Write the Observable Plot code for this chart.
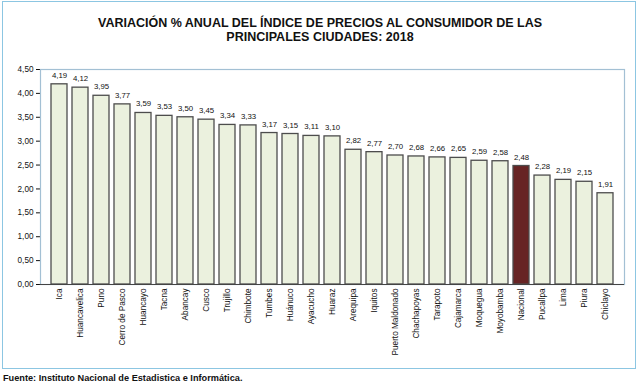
<!DOCTYPE html>
<html>
<head>
<meta charset="utf-8">
<script src="https://cdn.jsdelivr.net/npm/d3@7"></script>
<script src="https://cdn.jsdelivr.net/npm/@observablehq/plot@0.6"></script>
<style>
  html, body { margin: 0; padding: 0; background: #fff; }
  #wrap { position: relative; width: 640px; height: 384px; overflow: hidden; font-family: "Liberation Sans", Arial, sans-serif; }
  #frame { position: absolute; left: 2px; top: 1px; width: 632px; height: 366px; border: 1.5px solid #8cc6e2; pointer-events: none; }
  #title { height: 46px; box-sizing: border-box; padding-top: 17px; text-align: center; font-weight: bold; font-size: 12.5px; line-height: 13.5px; color: #111; }
  #chart svg { display: block; }
  #foot { position: absolute; left: 3px; top: 372px; font-size: 9.2px; line-height: 12px; font-weight: bold; color: #111; }
</style>
</head>
<body>
<div id="wrap">
  <div id="frame"></div>
  <div id="title">VARIACIÓN % ANUAL DEL ÍNDICE DE PRECIOS AL CONSUMIDOR DE LAS<br>PRINCIPALES CIUDADES: 2018</div>
  <div id="chart"></div>
  <div id="foot">Fuente: Instituto Nacional de Estadistica e Informática.</div>
</div>
<script>
const cities = ["Ica","Huancavelica","Puno","Cerro de Pasco","Huancayo","Tacna","Abancay","Cusco","Trujillo","Chimbote","Tumbes","Huánuco","Ayacucho","Huaraz","Arequipa","Iquitos","Puerto Maldonado","Chachapoyas","Tarapoto","Cajamarca","Moquegua","Moyobamba","Nacional","Pucallpa","Lima","Piura","Chiclayo"];
const values = [4.19,4.12,3.95,3.77,3.59,3.53,3.50,3.45,3.34,3.33,3.17,3.15,3.11,3.10,2.82,2.77,2.70,2.68,2.66,2.65,2.59,2.58,2.48,2.28,2.19,2.15,1.91];
const highlighted = "Nacional";
const yTicks = [0,0.5,1,1.5,2,2.5,3,3.5,4,4.5];

const fmt = d => d.toFixed(2).replace(".", ",");
const data = cities.map((c, i) => ({city: c, value: values[i], color: c === highlighted ? "#672424" : "#ebf1de"}));

const chart = Plot.plot({
  width: 640,
  height: 324,
  marginLeft: 40,
  marginRight: 16,
  marginTop: 23,
  marginBottom: 86,
  style: {fontFamily: "'Liberation Sans', Arial, sans-serif", fontSize: "8.2px", color: "#111", background: "transparent"},
  x: {domain: cities, paddingInner: 0.26, paddingOuter: 0.13, tickRotate: -90, tickSize: 0, tickPadding: 4, label: null},
  y: {domain: [0, 4.5], ticks: yTicks, tickFormat: fmt, tickSize: 4, tickPadding: 3, label: null, line: true},
  color: {type: "identity"},
  marks: [
    Plot.frame({stroke: "#a3c0d4", strokeWidth: 1.2}),
    Plot.barY(data, {x: "city", y: "value", fill: "color", stroke: "#4d4d4d", strokeWidth: 1.3}),
    Plot.ruleY([0], {stroke: "#444", strokeWidth: 1.2}),
    Plot.text(data, {x: "city", y: "value", text: d => fmt(d.value), dy: -9, fontSize: 7.8, fill: "#111"})
  ]
});
document.getElementById("chart").appendChild(chart);
</script>
</body>
</html>
